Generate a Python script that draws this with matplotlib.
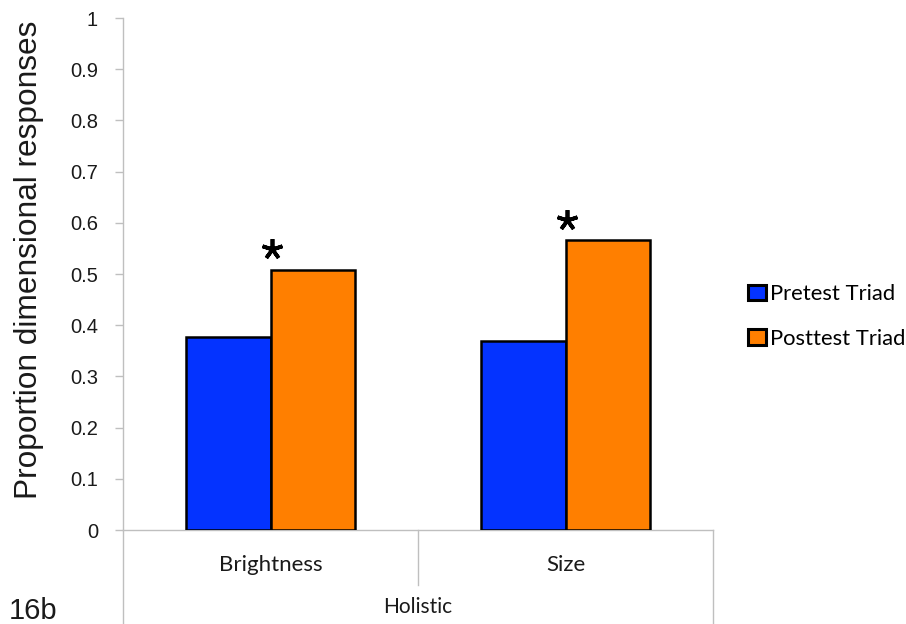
import matplotlib
matplotlib.use("Agg")
import matplotlib.pyplot as plt
from matplotlib.patches import Patch

categories = ["Brightness", "Size"]
group_label = "Holistic"
series_names = ["Pretest Triad", "Posttest Triad"]
pretest = [0.377, 0.369]
posttest = [0.507, 0.566]
star_heights = [0.548, 0.606]
yticks = [0, 0.1, 0.2, 0.3, 0.4, 0.5, 0.6, 0.7, 0.8, 0.9, 1]
ytick_labels = ["0", "0.1", "0.2", "0.3", "0.4", "0.5", "0.6", "0.7", "0.8", "0.9", "1"]

blue = "#0433FF"
orange = "#FF7F00"
grey = "#BFBFBF"

W, H = 906, 624
fig = plt.figure(figsize=(W / 100, H / 100), dpi=100)
ax = fig.add_axes([123 / W, 1 - 530 / H, 590 / W, 512 / H])

x = list(range(len(categories)))
w = 0.288
ax.bar([i - w / 2 for i in x], pretest, width=w, color=blue, edgecolor="black", linewidth=1.8, zorder=3)
ax.bar([i + w / 2 for i in x], posttest, width=w, color=orange, edgecolor="black", linewidth=1.8, zorder=3)

ax.plot([i + 0.005 for i in x], star_heights, linestyle="none", marker=(5, 2, 0),
        markersize=15, markeredgewidth=2.7, color="black", zorder=4)

ax.set_xlim(-0.5, len(categories) - 0.5)
ax.set_ylim(0, 1)
ax.set_yticks(yticks)
ax.set_yticklabels(ytick_labels, fontfamily="Liberation Sans", fontsize=14.5, color="#1a1a1a")
ax.tick_params(axis="y", length=6, color=grey, width=1, pad=12)
ax.set_xticks(x)
ax.set_xticklabels(categories, fontfamily="Lato", fontsize=16, color="#1a1a1a")
ax.tick_params(axis="x", length=0, pad=18)

for s in ["top", "right"]:
    ax.spines[s].set_visible(False)
for s in ["left", "bottom"]:
    ax.spines[s].set_color(grey)
    ax.spines[s].set_linewidth(1)

tr = ax.get_xaxis_transform()
ax.plot([-0.5, -0.5], [0, -0.184], transform=tr, color=grey, lw=1, clip_on=False)
ax.plot([len(categories) - 0.5] * 2, [0, -0.184], transform=tr, color=grey, lw=1, clip_on=False)
ax.plot([0.5, 0.5], [0, -0.107], transform=tr, color=grey, lw=1, clip_on=False)
ax.text((len(categories) - 1) / 2, -0.150, group_label, transform=tr, ha="center", va="center",
        fontfamily="Lato", fontsize=15, color="#1a1a1a")

fig.text(29 / W, 1 - 260 / H, "Proportion dimensional responses", rotation=90,
         ha="center", va="center", fontfamily="Liberation Sans", fontsize=22.8, color="#1a1a1a")

fig.text(9 / W, 1 - 611 / H, "16b", fontfamily="Liberation Sans", fontsize=21, ha="left", va="center",
         color="#1a1a1a")

handles = [Patch(facecolor=blue, edgecolor="black", linewidth=2.2),
           Patch(facecolor=orange, edgecolor="black", linewidth=2.2)]
fig.legend(handles, series_names, loc="upper left", bbox_to_anchor=(748 / W, 1 - 284 / H), frameon=False,
           prop={"family": "Lato", "size": 15.8}, handlelength=0.8, handleheight=0.72,
           handletextpad=0.2, labelspacing=1.12, borderpad=0, borderaxespad=0)

fig.savefig("out.png", dpi=100)
